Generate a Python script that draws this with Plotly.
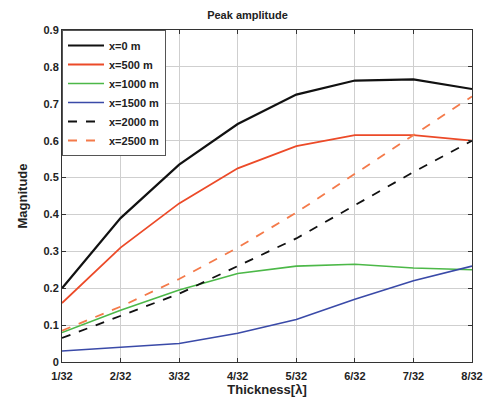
import plotly.graph_objects as go

# Thickness positions (in fractions of wavelength) and their tick labels
thickness = [1, 2, 3, 4, 5, 6, 7, 8]
tick_labels = ["1/32", "2/32", "3/32", "4/32", "5/32", "6/32", "7/32", "8/32"]
y_ticks = [0, 0.1, 0.2, 0.3, 0.4, 0.5, 0.6, 0.7, 0.8, 0.9]

# Peak amplitude for each offset
amp_0 = [0.20, 0.39, 0.535, 0.645, 0.725, 0.763, 0.766, 0.74]
amp_500 = [0.16, 0.31, 0.43, 0.525, 0.585, 0.615, 0.615, 0.60]
amp_1000 = [0.08, 0.14, 0.195, 0.24, 0.26, 0.265, 0.255, 0.25]
amp_1500 = [0.03, 0.04, 0.05, 0.078, 0.115, 0.17, 0.22, 0.26]
amp_2000 = [0.065, 0.125, 0.185, 0.26, 0.335, 0.425, 0.515, 0.60]
amp_2500 = [0.085, 0.15, 0.225, 0.31, 0.405, 0.51, 0.615, 0.72]

series = [
    ("x=0 m", amp_0, "#111111", "solid", 2.2),
    ("x=500 m", amp_500, "#ec4a28", "solid", 1.8),
    ("x=1000 m", amp_1000, "#4cb848", "solid", 1.6),
    ("x=1500 m", amp_1500, "#3a4aa8", "solid", 1.6),
    ("x=2000 m", amp_2000, "#111111", "dash", 1.8),
    ("x=2500 m", amp_2500, "#f47a4a", "dash", 1.8),
]

fig = go.Figure()
for name, vals, color, dash, width in series:
    fig.add_trace(go.Scatter(
        x=thickness, y=vals, name=f"<b>{name}</b>", mode="lines",
        line=dict(color=color, dash=dash, width=width),
    ))

font = dict(family="Liberation Sans, Arial, sans-serif", size=11, color="#222222")

fig.update_layout(
    width=495, height=405,
    margin=dict(l=62, r=16, t=30, b=42),
    paper_bgcolor="white", plot_bgcolor="white",
    font=font,
    title=dict(text="<b>Peak amplitude</b>", x=0.5, xanchor="center",
               y=0.963, yanchor="middle", font=dict(size=11)),
    showlegend=True,
    legend=dict(
        x=0, y=1, xanchor="left", yanchor="top",
        bgcolor="white", bordercolor="#555555", borderwidth=1,
        font=dict(size=11, family="Liberation Sans, Arial, sans-serif"),
        itemwidth=36, tracegroupgap=0,
    ),
)

fig.update_xaxes(
    range=[1, 8], tickvals=thickness,
    ticktext=[f"<b>{t}</b>" for t in tick_labels],
    showgrid=True, gridcolor="#cfcfcf", gridwidth=1,
    showline=True, linecolor="#333333", linewidth=1, mirror="ticks",
    ticks="inside", ticklen=4, tickcolor="#333333",
    ticklabelstandoff=4,
    zeroline=False,
    title=dict(text="<b>Thickness[λ]</b>", standoff=2),
)
fig.update_yaxes(
    range=[0, 0.9], tickvals=y_ticks,
    ticktext=[f"<b>{v:g}</b>" for v in y_ticks],
    showgrid=True, gridcolor="#cfcfcf", gridwidth=1,
    showline=True, linecolor="#333333", linewidth=1, mirror="ticks",
    ticks="inside", ticklen=4, tickcolor="#333333",
    zeroline=False,
    title=dict(text="<b>Magnitude</b>", standoff=12),
)

fig.write_html("out.html")
